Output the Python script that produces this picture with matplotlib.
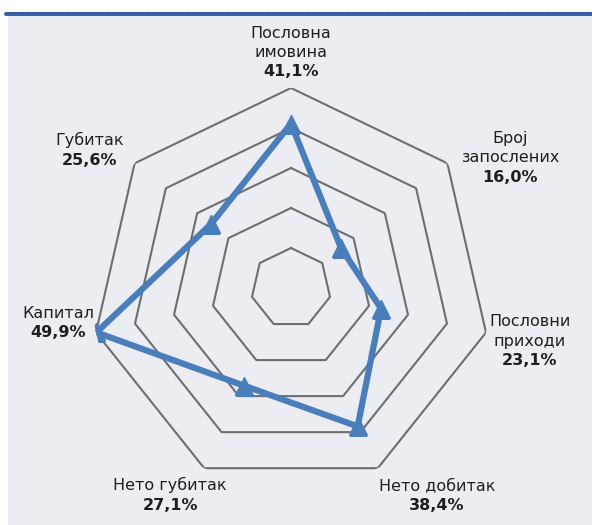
import numpy as np
import matplotlib.pyplot as plt
from matplotlib.lines import Line2D
from matplotlib.patches import Rectangle

# chart data
categories = ['Пословна\nимовина', 'Број\nзапослених', 'Пословни\nприходи', 'Нето добитак',
              'Нето губитак', 'Капитал', 'Губитак']
values = [41.1, 16.0, 23.1, 38.4, 27.1, 49.9, 25.6]
value_labels = ['41,1%', '16,0%', '23,1%', '38,4%', '27,1%', '49,9%', '25,6%']
rings = [10, 20, 30, 40, 50]

# label offsets (pixels) of the bold value line from the outer vertex
label_offsets = [(0, 16), (63, -14), (44, -28), (59, -37), (-34, -37), (-38, 0), (-45, 3)]

plt.rcParams['font.family'] = ['DejaVu Sans']

W, H = 592, 525
fig = plt.figure(figsize=(W / 100, H / 100), dpi=100)
fig.patch.set_facecolor('white')

# panel background and top rule
fig.add_artist(Rectangle((8 / W, 0), 1 - 8 / W, (H - 15) / H, transform=fig.transFigure,
                         facecolor='#ECEDF2', edgecolor='none', zorder=0))
fig.add_artist(Line2D([6 / W, 1], [1 - 14 / H, 1 - 14 / H], transform=fig.transFigure,
                      color='#2E559E', lw=2.8, solid_capstyle='round', zorder=1))
fig.add_artist(Line2D([6 / W, 1], [1 - 14 / H, 1 - 14 / H], transform=fig.transFigure,
                      color='#6F8FC8', lw=0.6, ls=(0, (1, 2)), zorder=2))

ax = fig.add_axes([91 / W, 37 / H, 400 / W, 400 / H], projection='polar')
ax.set_facecolor('none')
ax.set_theta_zero_location('N')
ax.set_theta_direction(-1)

n = len(values)
angles = np.linspace(0, 2 * np.pi, n, endpoint=False)
closed = np.concatenate([angles, angles[:1]])

# heptagon grid
for r in rings:
    ax.plot(closed, [r] * (n + 1), color='#6E6E6E', lw=1.5, zorder=2)

vals = np.concatenate([values, values[:1]])
ax.plot(closed, vals, color='#4A7EBB', lw=4.5, zorder=3, solid_joinstyle='miter')
ax.plot(angles, values, ls='none', marker='^', ms=12.5, color='#4A7EBB', zorder=4)

ax.set_ylim(0, 50)
ax.set_xticks([])
ax.set_yticks([])
ax.grid(False)
ax.spines['polar'].set_visible(False)

for a, name, vl, (dx, dy) in zip(angles, categories, value_labels, label_offsets):
    ax.annotate(vl, xy=(a, 50), xytext=(dx, dy), textcoords='offset pixels',
                ha='center', va='center', fontsize=11.5, fontweight='bold', color='#1E1E1E',
                annotation_clip=False)
    ax.annotate(name, xy=(a, 50), xytext=(dx, dy + 12), textcoords='offset pixels',
                ha='center', va='bottom', fontsize=11.5, color='#1E1E1E',
                multialignment='center', linespacing=1.35, annotation_clip=False)

fig.savefig('out.png', dpi=100, facecolor='white')
